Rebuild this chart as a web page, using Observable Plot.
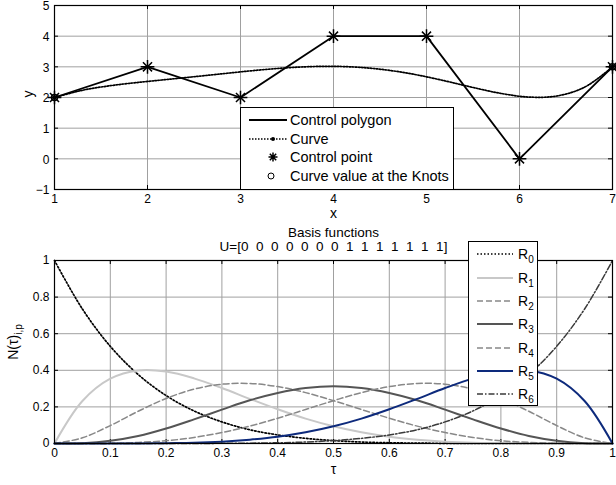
<!DOCTYPE html>
<html><head><meta charset="utf-8">
<script src="https://cdn.jsdelivr.net/npm/d3@7"></script>
<script src="https://cdn.jsdelivr.net/npm/@observablehq/plot@0.6"></script>
<style>
body{margin:0;background:#fff;}
#root{position:relative;width:616px;height:485px;overflow:hidden;font-family:"Liberation Sans",Arial,sans-serif;color:#000;}
#root > svg{position:absolute;left:0;}
#root svg text{white-space:pre;}
.leg{position:absolute;background:#fff;border:1px solid #000;box-sizing:border-box;}
.row{position:absolute;left:0;height:20px;white-space:nowrap;}
.row svg{position:absolute;left:0;top:0;}
.row span{position:absolute;top:0;line-height:20px;}
sub{font-size:10px;vertical-align:-4px;line-height:0;}
</style></head><body><div id="root"></div><script>
// ---------- data ----------
const ctrlX = [1, 2, 3, 4, 5, 6, 7];
const ctrlY = [2, 3, 2, 4, 4, 0, 3];
const curveX = [1, 1.3, 1.6, 1.9, 2.2, 2.5, 2.8, 3.1, 3.4, 3.7, 4, 4.3, 4.6, 4.9, 5.2, 5.5, 5.8, 6.1, 6.4, 6.7, 7];
const curveY = [2, 2.236, 2.385, 2.492, 2.585, 2.677, 2.772, 2.866, 2.946, 3.001, 3.016, 2.979, 2.885, 2.736, 2.541, 2.327, 2.133, 2.014, 2.049, 2.336, 3];
const knotX = [1, 7];
const knotY = [2, 3];
const topXTicks = [1, 2, 3, 4, 5, 6, 7];
const topYTicks = [-1, 0, 1, 2, 3, 4, 5];
const legend1Labels = ["Control polygon", "Curve", "Control point", "Curve value at the Knots"];

const tau = [0, 0.05, 0.1, 0.15, 0.2, 0.25, 0.3, 0.35, 0.4, 0.45, 0.5, 0.55, 0.6, 0.65, 0.7, 0.75, 0.8, 0.85, 0.9, 0.95, 1];
const R0 = [1, 0.735, 0.531, 0.377, 0.262, 0.178, 0.118, 0.075, 0.047, 0.028, 0.016, 0.008, 0.004, 0.002, 0.001, 0.000, 0, 0, 0, 0, 0];
const R1 = [0, 0.232, 0.354, 0.399, 0.393, 0.356, 0.303, 0.244, 0.187, 0.136, 0.094, 0.061, 0.037, 0.021, 0.010, 0.004, 0.002, 0.000, 0, 0, 0];
const R2 = [0, 0.031, 0.098, 0.176, 0.246, 0.297, 0.324, 0.328, 0.311, 0.278, 0.234, 0.186, 0.138, 0.095, 0.060, 0.033, 0.015, 0.006, 0.001, 0.000, 0];
const R3 = [0, 0.002, 0.015, 0.041, 0.082, 0.132, 0.185, 0.236, 0.276, 0.303, 0.313, 0.303, 0.276, 0.236, 0.185, 0.132, 0.082, 0.041, 0.015, 0.002, 0];
const R4 = [0, 0.000, 0.001, 0.006, 0.015, 0.033, 0.060, 0.095, 0.138, 0.186, 0.234, 0.278, 0.311, 0.328, 0.324, 0.297, 0.246, 0.176, 0.098, 0.031, 0];
const R5 = [0, 0, 0, 0.000, 0.002, 0.004, 0.010, 0.021, 0.037, 0.061, 0.094, 0.136, 0.187, 0.244, 0.303, 0.356, 0.393, 0.399, 0.354, 0.232, 0];
const R6 = [0, 0, 0, 0, 0, 0.000, 0.001, 0.002, 0.004, 0.008, 0.016, 0.028, 0.047, 0.075, 0.118, 0.178, 0.262, 0.377, 0.531, 0.735, 1];
const seriesNames = ["R0", "R1", "R2", "R3", "R4", "R5", "R6"];
const seriesValues = [R0, R1, R2, R3, R4, R5, R6];
const botXTicks = [0, 0.1, 0.2, 0.3, 0.4, 0.5, 0.6, 0.7, 0.8, 0.9, 1];
const botYTicks = [0, 0.2, 0.4, 0.6, 0.8, 1];
const title1 = "Basis functions";
const title2 = "U=[0  0  0  0  0  0  0  1  1  1  1  1  1  1]";

// ---------- styles ----------
const sStyles = [
  {stroke: "#000", strokeWidth: 1.7, dash: "1.5,2"},
  {stroke: "#c8c8c8", strokeWidth: 2, dash: null},
  {stroke: "#888", strokeWidth: 1.5, dash: "6,3"},
  {stroke: "#555", strokeWidth: 2, dash: null},
  {stroke: "#888", strokeWidth: 1.5, dash: "6,3"},
  {stroke: "#0d2a7c", strokeWidth: 2, dash: null},
  {stroke: "#3a3a3a", strokeWidth: 1.5, dash: "6,2,1.5,2"}
];

const root = document.getElementById("root");
const FONT = '"Liberation Sans", Arial, sans-serif';
const ctrl = ctrlX.map((x, i) => ({x, y: ctrlY[i]}));
const curve = curveX.map((x, i) => ({x, y: curveY[i]}));
const knots = knotX.map((x, i) => ({x, y: knotY[i]}));
const gridColor = "#a0a0a0";

// ---------- top plot ----------
const W = 616, ML = 54, MR = 4;
const topH = 225, topMT = 5, topMB = 36;
const fw = W - ML - MR, fhTop = topH - topMT - topMB;
const topPlot = Plot.plot({
  width: W, height: topH, marginLeft: ML, marginRight: MR, marginTop: topMT, marginBottom: topMB,
  style: {fontFamily: FONT, fontSize: "12px", background: "transparent", overflow: "visible"},
  x: {domain: [1, 7]},
  y: {domain: [-1, 5]},
  marks: [
    Plot.gridX(topXTicks, {stroke: gridColor, strokeOpacity: 1}),
    Plot.gridY(topYTicks, {stroke: gridColor, strokeOpacity: 1}),
    Plot.ruleX(topXTicks, {insetTop: fhTop - 4, stroke: "#000"}),
    Plot.ruleX(topXTicks, {insetBottom: fhTop - 4, stroke: "#000"}),
    Plot.ruleY(topYTicks, {insetRight: fw - 4, stroke: "#000"}),
    Plot.ruleY(topYTicks, {insetLeft: fw - 4, stroke: "#000"}),
    Plot.axisX(topXTicks, {tickSize: 0, tickPadding: 5, label: null}),
    Plot.axisY(topYTicks, {tickSize: 0, tickPadding: 5, label: null, dy: 1}),
    Plot.frame({stroke: "#000", strokeWidth: 1.2}),
    Plot.line(curve, {x: "x", y: "y", curve: "catmull-rom", stroke: "#000", strokeWidth: 1.7, strokeDasharray: "1.5,1.5"}),
    Plot.line(ctrl, {x: "x", y: "y", stroke: "#000", strokeWidth: 1.8}),
    Plot.dot(knots, {x: "x", y: "y", r: 3, stroke: "#000", fill: "none"}),
    Plot.dot(ctrl, {x: "x", y: "y", symbol: "plus", r: 4.5, stroke: "#000", strokeWidth: 1.5}),
    Plot.dot(ctrl, {x: "x", y: "y", symbol: "times", r: 4.2, stroke: "#000", strokeWidth: 1.5}),
    Plot.text(["x"], {frameAnchor: "bottom", dy: 28, fontSize: 14, text: d => d}),
    Plot.text(["y"], {frameAnchor: "left", dx: -26, rotate: -90, fontSize: 14, text: d => d})
  ]
});
topPlot.style.top = "0px";
root.appendChild(topPlot);

// ---------- bottom plot ----------
const botTop = 218, botH = 267, botMT = 42, botMB = 42;
const fhBot = botH - botMT - botMB;
const rows = [];
seriesNames.forEach((name, k) => tau.forEach((t, i) => rows.push({name, t, v: seriesValues[k][i]})));
const fmt = d => d === 0 ? "0" : d === 1 ? "1" : String(d);
const botPlot = Plot.plot({
  width: W, height: botH, marginLeft: ML, marginRight: MR, marginTop: botMT, marginBottom: botMB,
  style: {fontFamily: FONT, fontSize: "12px", background: "transparent", overflow: "visible"},
  x: {domain: [0, 1]},
  y: {domain: [0, 1]},
  marks: [
    Plot.gridX(botXTicks, {stroke: gridColor, strokeOpacity: 1}),
    Plot.gridY(botYTicks, {stroke: gridColor, strokeOpacity: 1}),
    Plot.ruleX(botXTicks, {insetTop: fhBot - 4, stroke: "#000"}),
    Plot.ruleX(botXTicks, {insetBottom: fhBot - 4, stroke: "#000"}),
    Plot.ruleY(botYTicks, {insetRight: fw - 4, stroke: "#000"}),
    Plot.ruleY(botYTicks, {insetLeft: fw - 4, stroke: "#000"}),
    Plot.axisX(botXTicks, {tickSize: 0, tickPadding: 5, label: null, tickFormat: fmt}),
    Plot.axisY(botYTicks, {tickSize: 0, tickPadding: 5, label: null, tickFormat: fmt}),
    ...seriesNames.map((name, k) => Plot.line(rows.filter(r => r.name === name), {
      x: "t", y: "v", curve: "catmull-rom", stroke: sStyles[k].stroke,
      strokeWidth: sStyles[k].strokeWidth, strokeDasharray: sStyles[k].dash
    })),
    Plot.frame({stroke: "#000", strokeWidth: 1.2}),
    Plot.text([title1], {frameAnchor: "top", dy: -33, fontSize: 13.5, text: d => d}),
    Plot.text([title2], {frameAnchor: "top", dy: -19, fontSize: 13.5, text: d => d}),
    Plot.text(["τ"], {frameAnchor: "bottom", dy: 30, fontSize: 14, text: d => d})
  ]
});
botPlot.style.top = botTop + "px";
root.appendChild(botPlot);

// y label of bottom plot
const yl = document.createElement("div");
yl.style.cssText = "position:absolute;left:13px;top:342px;transform:translate(-50%,-50%) rotate(-90deg);white-space:nowrap;font-size:14px;line-height:16px;";
yl.innerHTML = "N(τ)<sub>i,p</sub>";
root.appendChild(yl);

// ---------- legend 1 ----------
function sample(w, h, inner) {
  return `<svg width="${w}" height="${h}">${inner}</svg>`;
}
const leg1 = document.createElement("div");
leg1.className = "leg";
leg1.style.cssText = "left:240px;top:107px;width:214px;height:83px;";
const l1y = [12, 30.5, 49, 67.5];
const l1s = [
  `<line x1="8" x2="46" y1="10" y2="10" stroke="#000" stroke-width="1.8"/>`,
  `<line x1="8" x2="46" y1="10" y2="10" stroke="#000" stroke-width="1.7" stroke-dasharray="1.5,1.5"/><circle cx="32" cy="10" r="2" fill="#000"/>`,
  `<path d="M32,5.5V14.5M27.5,10H36.5M28.8,6.8L35.2,13.2M35.2,6.8L28.8,13.2" stroke="#000" stroke-width="1.5"/>`,
  `<circle cx="30" cy="10" r="3" fill="none" stroke="#000"/>`
];
legend1Labels.forEach((lab, i) => {
  const r = document.createElement("div");
  r.className = "row";
  r.style.top = (l1y[i] - 10) + "px";
  r.innerHTML = sample(50, 20, l1s[i]) + `<span style="left:49px;font-size:14.5px;">${lab}</span>`;
  leg1.appendChild(r);
});
root.appendChild(leg1);

// ---------- legend 2 ----------
const leg2 = document.createElement("div");
leg2.className = "leg";
leg2.style.cssText = "left:468px;top:241px;width:70px;height:165px;";
seriesNames.forEach((name, k) => {
  const s = sStyles[k];
  const r = document.createElement("div");
  r.className = "row";
  r.style.top = (12.3 + k * 23.33 - 10) + "px";
  r.innerHTML = sample(48, 20, `<line x1="8" x2="44" y1="10" y2="10" stroke="${s.stroke}" stroke-width="${s.strokeWidth}" ${s.dash ? `stroke-dasharray="${s.dash}"` : ""}/>`) +
    `<span style="left:49px;font-size:14px;">R<sub>${name.slice(1)}</sub></span>`;
  leg2.appendChild(r);
});
root.appendChild(leg2);
</script></body></html>
